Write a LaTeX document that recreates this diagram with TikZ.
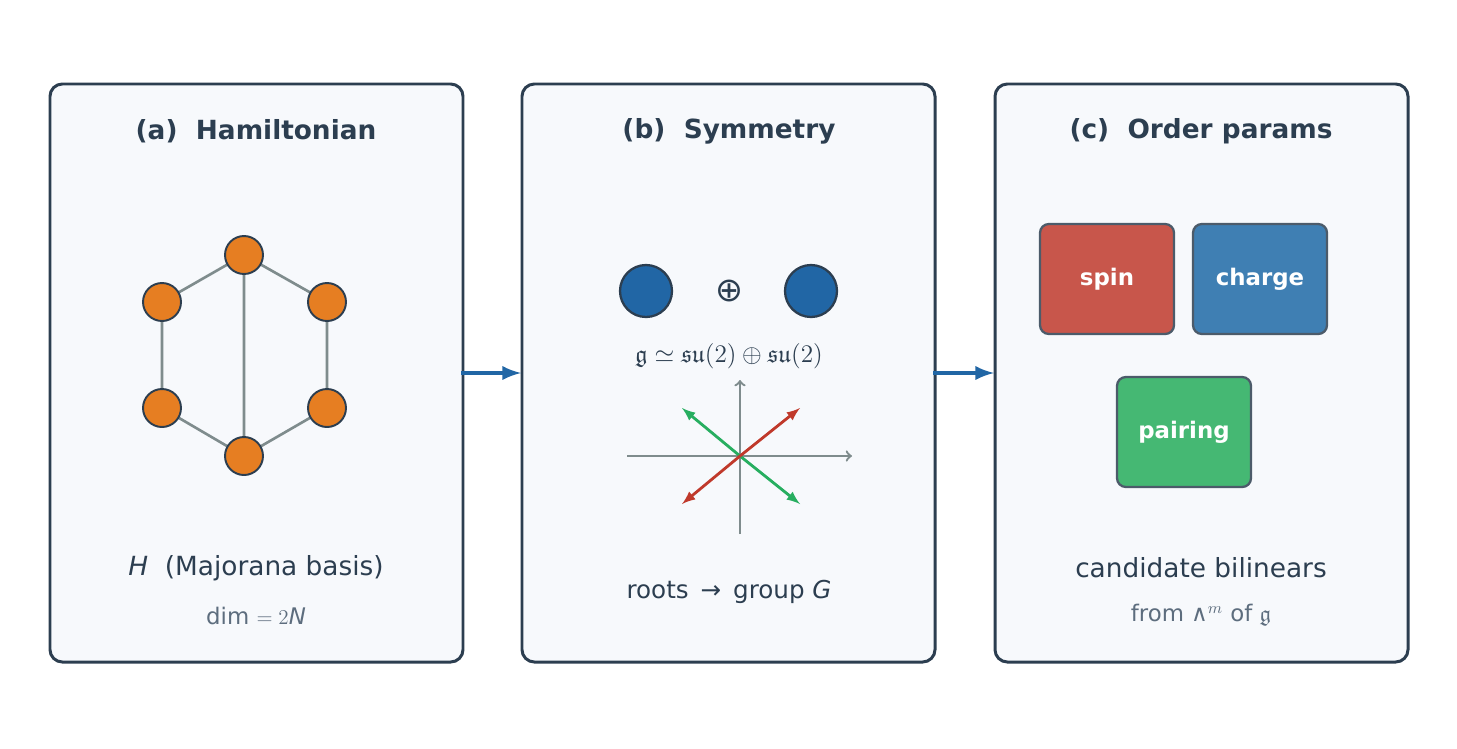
\documentclass[tikz,border=0pt]{standalone}
\usepackage{fontspec}
\usepackage{amssymb}
\setmainfont{DejaVu Sans}
\definecolor{ink}{HTML}{2C3E50}
\definecolor{soft}{HTML}{5D6D7E}
\definecolor{panelbg}{HTML}{F7F9FC}
\definecolor{edgegray}{HTML}{7F8C8D}
\definecolor{siteorange}{HTML}{E67E22}
\definecolor{flowblue}{HTML}{2166A5}
\definecolor{spinred}{HTML}{C8564B}
\definecolor{chargeblue}{HTML}{3F7FB3}
\definecolor{pairgreen}{HTML}{45B873}
\definecolor{rootgreen}{HTML}{27AE60}
\definecolor{rootred}{HTML}{C0392B}
\tikzset{
  panel/.style={draw=ink,line width=1.7pt,fill=panelbg,rounded corners=7pt},
  title/.style={text=ink,font=\bfseries\fontsize{15}{18}\selectfont},
  site/.style={circle,draw=ink,line width=1.1pt,fill=siteorange,minimum size=0.76cm,inner sep=0pt},
  bond/.style={edgegray,line width=1.5pt},
  flow/.style={-latex,flowblue,line width=2.6pt},
  irrep/.style={circle,draw=ink,line width=1.3pt,fill=flowblue,minimum size=1.04cm,inner sep=0pt},
  orderbox/.style={draw=ink!85,line width=1.3pt,rounded corners=5pt,minimum width=2.68cm,minimum height=2.2cm,text=white,font=\bfseries\fontsize{13}{15}\selectfont},
  body/.style={text=ink,font=\fontsize{15}{18}\selectfont},
  note/.style={text=soft,font=\fontsize{13}{15}\selectfont}
}
\begin{document}
\begin{tikzpicture}[x=0.02cm,y=-0.02cm]
\useasboundingbox (0,0) rectangle (1457,748);
% panels
\draw[panel] (50,84) rectangle (463,662);
\draw[panel] (522,84) rectangle (935,662);
\draw[panel] (995,84) rectangle (1408,662);
\node[title] (ta) at (256,131) {(a)\ \ Hamiltonian};
\node[title] (tb) at (729,131) {(b)\ \ Symmetry};
\node[title] (tc) at (1201,131) {(c)\ \ Order params};
% (a) lattice
\coordinate (pa) at (463,373);
\foreach \n/\x/\y in {s1/244/255,s2/327/302,s3/327/408,s4/244/456,s5/162/408,s6/162/302}
  \coordinate (\n) at (\x,\y);
\draw[bond] (s1)--(s2)--(s3)--(s4)--(s5)--(s6)--cycle (s1)--(s4);
\foreach \n in {s1,s2,s3,s4,s5,s6}
  \node[site] at (\n) {};
\node[body] (ha) at (256,568) {\textit{H}\ \ (Majorana basis)};
\node[note] (da) at (256,616) {dim $=2$\textit{N}};
% flow arrows
\coordinate (a1) at (461,373); \coordinate (b1) at (521,373);
\coordinate (a2) at (933,373); \coordinate (b2) at (994,373);
\draw[flow] (a1)--(b1);
\draw[flow] (a2)--(b2);
% (b) symmetry
\node[irrep] (ir1) at (646,291) {};
\node[irrep] (ir2) at (811,291) {};
\node[text=ink,font=\fontsize{19}{20}\selectfont] (op) at (729,291) {⊕};
\node[text=ink,font=\fontsize{14}{16}\selectfont] (gf) at (729,356) {$\mathfrak{g}\simeq\mathfrak{su}(2)\oplus\mathfrak{su}(2)$};
\coordinate (o) at (740,456);
\coordinate (xl) at (627,456); \coordinate (xr) at (852,456);
\coordinate (yb) at (740,534); \coordinate (yt) at (740,380);
\draw[->,edgegray,line width=1.3pt] (xl)--(xr);
\draw[->,edgegray,line width=1.3pt] (yb)--(yt);
\draw[-latex,rootgreen,line width=1.6pt] (o)--(682,408);
\draw[-latex,rootgreen,line width=1.6pt] (o)--(800,504);
\draw[-latex,rootred,line width=1.6pt] (o)--(800,408);
\draw[-latex,rootred,line width=1.6pt] (o)--(682,504);
\node[body,font=\fontsize{14}{17}\selectfont] (rg) at (729,592) {roots \,→\, group \textit{G}};
% (c) order parameters
\node[orderbox,fill=spinred] (spin) at (1107,279) {spin};
\node[orderbox,fill=chargeblue] (charge) at (1260,279) {charge};
\node[orderbox,fill=pairgreen] (pairing) at (1184,432) {pairing};
\node[body] (cb) at (1201,568) {candidate bilinears};
\node[note] (fw) at (1201,615) {from ∧$^{m}$ of $\mathfrak{g}$};
\end{tikzpicture}
\end{document}
